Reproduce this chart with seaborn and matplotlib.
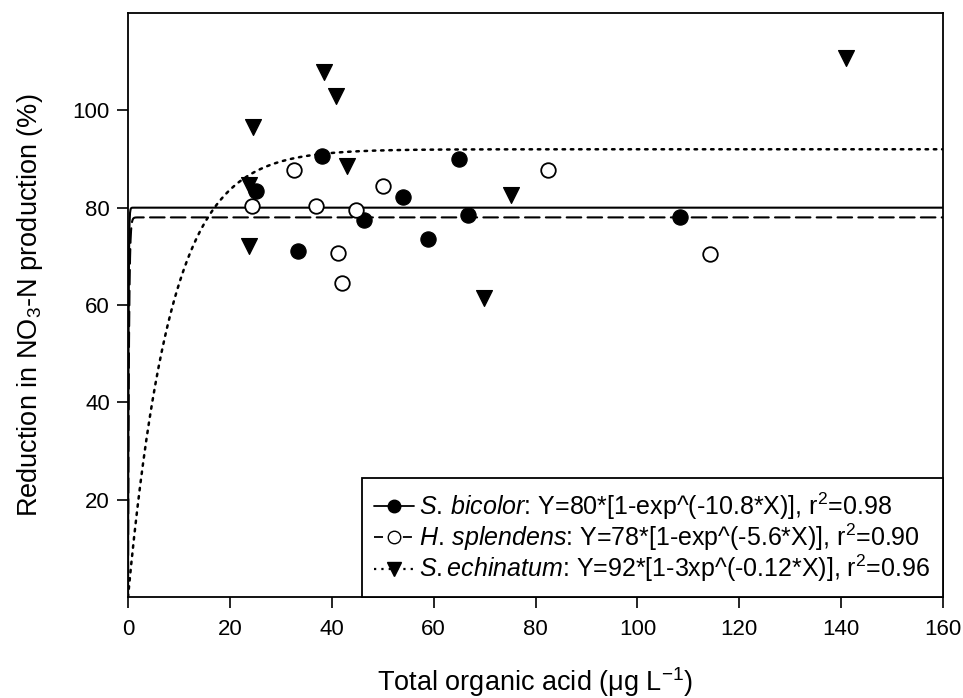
import numpy as np
import pandas as pd
import seaborn as sns
import matplotlib.pyplot as plt
from matplotlib.lines import Line2D

# data
bicolor_x = [25.1, 33.4, 38.1, 46.4, 53.9, 58.9, 65.0, 66.8, 108.4]
bicolor_y = [83.4, 71.0, 90.6, 77.5, 82.1, 73.6, 90.1, 78.4, 78.0]

splendens_x = [24.3, 32.5, 36.9, 41.2, 42.0, 44.7, 50.1, 82.5, 114.3]
splendens_y = [80.3, 87.8, 80.3, 70.6, 64.5, 79.6, 84.4, 87.8, 70.5]

echinatum_x = [23.7, 23.8, 24.5, 38.5, 40.9, 42.9, 69.9, 75.1, 141.0]
echinatum_y = [72.2, 84.7, 96.6, 107.8, 103.0, 88.5, 61.4, 82.7, 110.7]

# fitted model parameters given in the legend: Y = a*[1-exp(-b*X)]
fit_a = [80, 78, 92]
fit_b = [10.8, 5.6, 0.12]
fit_r2 = ["0.98", "0.90", "0.96"]
species = ["S. bicolor", "H. splendens", "S.echinatum"]

sns.set_style("ticks")
plt.rcParams['font.family'] = ['Liberation Sans', 'DejaVu Sans']
plt.rcParams['mathtext.fontset'] = 'custom'
plt.rcParams['mathtext.rm'] = 'Liberation Sans'
plt.rcParams['mathtext.it'] = 'Liberation Sans:italic'
plt.rcParams['axes.linewidth'] = 1.3
for key in ['text.color', 'axes.labelcolor', 'xtick.color', 'ytick.color', 'axes.edgecolor']:
    plt.rcParams[key] = 'black'

fig = plt.figure(figsize=(9.63, 6.98), dpi=100)
ax = fig.add_axes([128/963, 1 - 597/698, 815/963, 584/698])

#fitted curves
xfit = np.linspace(0, 160, 3201)
styles = ['-', (0, (7, 3)), (0, (1, 2.3))]
widths = [1.5, 1.5, 1.8]
for a, b, ls, lw in zip(fit_a, fit_b, styles, widths):
    df_fit = pd.DataFrame({"x": xfit, "y": a * (1 - np.exp(-b * xfit))})
    sns.lineplot(data=df_fit, x="x", y="y", ax=ax, color='k', lw=lw,
                 linestyle=ls, dash_capstyle='round', zorder=2)

#scatter points
sns.scatterplot(x=bicolor_x, y=bicolor_y, ax=ax, marker='o', s=120,
                color='k', edgecolor='k', zorder=3)
sns.scatterplot(x=splendens_x, y=splendens_y, ax=ax, marker='o', s=110,
                facecolor='white', edgecolor='k', linewidth=1.3, zorder=3)
sns.scatterplot(x=echinatum_x, y=echinatum_y, ax=ax, marker='v', s=130,
                color='k', edgecolor='k', zorder=3)

ax.set_xlim(0, 160)
ax.set_ylim(0, 120)
ax.set_xticks(range(0, 161, 20))
ax.set_yticks(range(20, 101, 20))
ax.tick_params(direction='out', length=8, width=1.2, labelsize=16)
ax.tick_params(axis='x', pad=8)
ax.tick_params(axis='y', pad=5)

ax.set_xlabel("Total organic acid (\u03bcg L$^{-1}$)", fontsize=19.5, labelpad=18)
ax.set_ylabel(r"Reduction in NO$_3$-N production (%)", fontsize=19.5, labelpad=20)

#legend
handles = [
    Line2D([], [], color='k', ls='-', lw=1.3, marker='o', markersize=9, mfc='k', mec='k'),
    Line2D([], [], color='k', ls=(0, (5, 3)), lw=1.3, marker='o', markersize=9, mfc='white', mec='k'),
    Line2D([], [], color='k', ls=(0, (1, 2.3)), lw=1.6, marker='v', markersize=10, mfc='k', mec='k'),
]
labels = []
for sp, a, b, r2 in zip(species, fit_a, fit_b, fit_r2):
    sp_tex = sp.replace(" ", r"\,")
    exp_word = "3xp" if sp == "S.echinatum" else "exp"
    labels.append(r"$\it{" + sp_tex + "}$: Y=" + str(a) + "*[1-" + exp_word
                  + "^(-" + str(b) + "*X)], r$^2$=" + r2)
leg = ax.legend(handles, labels, loc='lower right', bbox_to_anchor=(1, 0),
                borderaxespad=0, fontsize=18, frameon=True, fancybox=False,
                framealpha=1, edgecolor='k', handlelength=1.6, handletextpad=0.2,
                labelspacing=0.0, borderpad=0.5)
leg.get_frame().set_linewidth(1.3)

fig.savefig("out.png", dpi=100)
